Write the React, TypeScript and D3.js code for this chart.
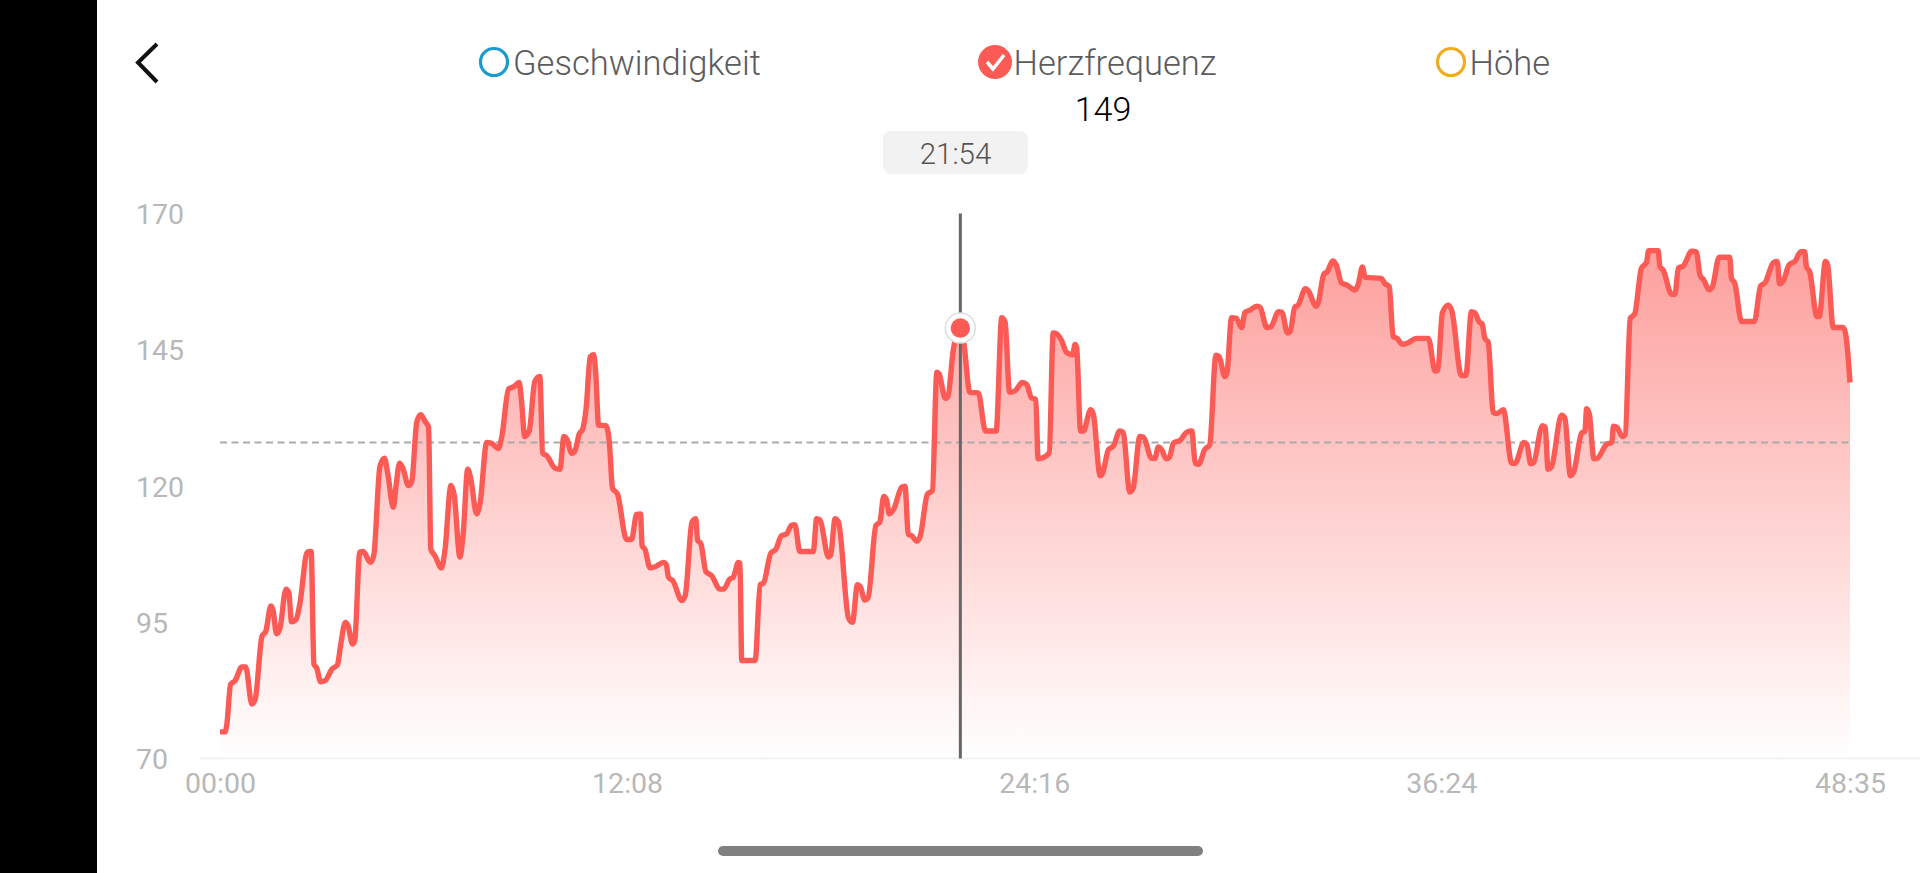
import React, { useEffect, useRef } from 'react';
import * as d3 from 'd3';

// seconds since start (00:00 .. 48:35)
const seconds = [
  0, 9, 12, 19, 27, 39, 46, 57, 63, 75, 82, 91, 95, 101, 107, 118, 123, 128, 136, 143,
  156, 163, 168, 173, 180, 188, 200, 210, 216, 224, 229, 237, 241, 250, 256, 269, 275, 286, 294, 300,
  310, 315, 321, 327, 337, 343, 352, 359, 367, 373, 377, 384, 396, 402, 413, 419, 429, 435, 443, 448,
  459, 465, 477, 486, 498, 504, 516, 525, 535, 539, 545, 553, 563, 572, 577, 585, 599, 608, 615, 620,
  629, 634, 643, 648, 655, 662, 668, 672, 677, 690, 696, 702, 711, 727, 736, 745, 752, 755, 760, 769,
  778, 793, 798, 802, 810, 826, 832, 844, 851, 854, 860, 869, 879, 894, 901, 911, 918, 927, 930, 933,
  957, 966, 972, 985, 994, 1004, 1013, 1022, 1028, 1037, 1061, 1067, 1073, 1088, 1092, 1100, 1106, 1124, 1131, 1140,
  1145, 1153, 1159, 1173, 1180, 1187, 1192, 1197, 1205, 1219, 1225, 1231, 1237, 1246, 1252, 1265, 1274, 1282, 1286, 1297,
  1302, 1311, 1324, 1330, 1341, 1356, 1369, 1388, 1398, 1404, 1412, 1422, 1435, 1443, 1451, 1459, 1463, 1469, 1483, 1490,
  1497, 1505, 1514, 1525, 1529, 1532, 1539, 1544, 1557, 1562, 1574, 1578, 1589, 1598, 1609, 1615, 1627, 1633, 1645, 1652,
  1666, 1672, 1678, 1684, 1692, 1698, 1705, 1717, 1729, 1738, 1744, 1750, 1761, 1770, 1781, 1787, 1797, 1801, 1809, 1817,
  1827, 1833, 1842, 1854, 1860, 1872, 1879, 1893, 1899, 1909, 1914, 1922, 1928, 1941, 1946, 1960, 1964, 1974, 1980, 1990,
  1996, 2006, 2015, 2030, 2036, 2043, 2048, 2077, 2083, 2091, 2098, 2105, 2115, 2123, 2140, 2161, 2173, 2178, 2186, 2197,
  2203, 2220, 2228, 2238, 2244, 2252, 2257, 2262, 2268, 2277, 2283, 2295, 2310, 2316, 2332, 2337, 2344, 2349, 2365, 2370,
  2375, 2381, 2399, 2405, 2415, 2421, 2435, 2441, 2444, 2449, 2457, 2463, 2480, 2489, 2492, 2498, 2508, 2513, 2522, 2530,
  2542, 2551, 2555, 2572, 2575, 2581, 2596, 2602, 2608, 2617, 2632, 2640, 2647, 2653, 2663, 2669, 2681, 2700, 2703, 2709,
  2721, 2744, 2755, 2763, 2778, 2785, 2789, 2795, 2806, 2817, 2827, 2834, 2837, 2843, 2856, 2860, 2871, 2875, 2885, 2903,
  2908, 2915,
];

const heartRate = [
  74.9, 74.9, 76.1, 83.6, 84.3, 86.8, 86.8, 80, 80.9, 92.4, 93.4, 98, 97.2, 92.9, 93.8, 101.1, 100.5, 95.1, 95.5, 98.5,
  107.9, 108, 87.3, 86.6, 84.1, 84.3, 86.4, 87.2, 91, 95, 94.4, 91, 91.7, 107.9, 108, 106, 107.3, 123.6, 125.1, 122.3,
  116.1, 120.2, 124.2, 123.3, 120.1, 120.9, 131.8, 133.1, 131.8, 130.8, 108.4, 107.3, 105, 108, 120.1, 118.2, 107, 111.4, 123.1, 121.6,
  114.9, 116.8, 128, 127.8, 126.9, 129.1, 137.8, 138.2, 139, 135.9, 129.1, 130.1, 139.2, 140.1, 126.1, 125.5, 123.3, 123.1, 129.1, 128.7,
  126, 126.3, 129.7, 130.3, 134.5, 143.7, 144.1, 140.6, 131.2, 131.1, 128.4, 119.6, 118.5, 110.2, 110.2, 114.8, 114.9, 109, 108.4, 105,
  105.2, 106, 105.6, 103.3, 102.6, 99, 99.9, 113.4, 114, 110.1, 109.4, 104.3, 103.6, 101.1, 101.1, 102.9, 103.3, 106, 105.8, 88,
  88, 101.9, 102.2, 107.7, 108.4, 110.9, 111.2, 112.8, 112.9, 108, 108, 114, 113.8, 107, 107.3, 114, 113.4, 95.8, 95, 101.9,
  101.6, 99.1, 99.5, 112.8, 113.4, 118.1, 117.5, 114.9, 115.8, 119.8, 120, 111.1, 110.9, 109.9, 110.7, 118.5, 119.2, 140.9, 140.6, 136.1,
  136.5, 144.7, 149, 146.4, 137.2, 137.1, 130.1, 130.1, 150.9, 150.1, 137.2, 137.5, 139, 138.6, 136.2, 135.9, 125, 125.1, 126.1, 148.1,
  147.9, 146.7, 144.5, 144.1, 146, 145.4, 130.1, 130.1, 134, 133.1, 121.9, 122.3, 126.7, 127.4, 130.1, 129.9, 118.9, 119.6, 129.1, 128.9,
  125.1, 125.1, 127.2, 126.7, 125, 125.3, 127.9, 128.4, 129.9, 130.1, 124.2, 124, 126.7, 127.6, 144, 143.7, 140.1, 140.9, 150.9, 150.8,
  149.1, 151.9, 152.3, 153, 152.8, 149.1, 149.2, 152, 151.9, 148.1, 148.4, 152.8, 153.2, 156.2, 155.9, 153, 153.6, 158.9, 159.3, 161.3,
  160.6, 157.2, 156.9, 156, 157.2, 160.2, 158.3, 158.1, 157.2, 156.6, 147.4, 147.1, 146, 146.2, 147.1, 147.1, 141.1, 141.3, 151.8, 153.2,
  152.1, 140.3, 140.3, 152, 151.8, 150.1, 149.8, 147.1, 146.4, 133.5, 133.3, 134, 124.2, 124.2, 128, 127.7, 124.1, 124.3, 131.1, 130.8,
  123.1, 123.5, 133, 132.5, 121.9, 122.6, 129.7, 130.1, 134.2, 133.1, 125, 125.1, 127.7, 128, 131, 130.8, 129.1, 129.4, 150.8, 151.6,
  160, 161, 163.2, 163.2, 160.3, 159.6, 155.2, 155.2, 160, 160.4, 163.1, 163, 158.6, 157.9, 156, 156.6, 162, 162, 158.1, 157.2,
  150.2, 150.2, 156.7, 157.3, 161, 161.2, 157.1, 157.5, 160.6, 161.3, 163, 163, 160.3, 159.3, 151.1, 151.1, 161.2, 160.6, 149.1, 149.1,
  147.4, 139,
];

const yTicks = [70, 95, 120, 145, 170];
const xTicks = [0, 728, 1456, 2184, 2915];
const xTickLabels = ['00:00', '12:08', '24:16', '36:24', '48:35'];
const averageRate = 128;
const cursorSeconds = 1324;
const cursorRate = 149;
const cursorLabel = '21:54';

const legendNames = ['Geschwindigkeit', 'Herzfrequenz', 'Höhe'];
const legendColors = ['#1a9bd0', '#fb5a55', '#f0ac1e'];
const legendActive = [false, true, false];

const FONT = 'Roboto, sans-serif';

const App: React.FC = () => {
  const svgRef = useRef<SVGSVGElement>(null);

  useEffect(() => {
    if (!svgRef.current) return;

    const width = 1920;
    const height = 873;
    const svg = d3.select(svgRef.current);
    svg.selectAll('*').remove();

    const x = d3.scaleLinear().domain([0, 2915]).range([220, 1850]);
    const y = d3.scaleLinear().domain([70, 170]).range([758.6, 213.6]);
    const points = seconds.map((s, i) => ({ s, v: heartRate[i] }));

    svg.append('rect').attr('width', width).attr('height', height).attr('fill', '#fff');
    svg.append('rect').attr('width', 97).attr('height', height).attr('fill', '#000');

    // back arrow
    svg.append('path')
      .attr('d', 'M157,44 L138,62.5 L157,82')
      .attr('fill', 'none')
      .attr('stroke', '#111')
      .attr('stroke-width', 4);

    // legend
    const legendX = [494, 995, 1451];
    const labelX = [19, 18.5, 18.5];
    legendNames.forEach((name, i) => {
      const g = svg.append('g').attr('transform', `translate(${legendX[i]},62)`);
      if (legendActive[i]) {
        g.append('circle').attr('r', 17).attr('fill', legendColors[i]);
        g.append('path')
          .attr('d', 'M-8,0 L-2,7 L9,-7')
          .attr('fill', 'none')
          .attr('stroke', '#fff')
          .attr('stroke-width', 3.5);
      } else {
        g.append('circle')
          .attr('r', 13.5)
          .attr('fill', 'none')
          .attr('stroke', legendColors[i])
          .attr('stroke-width', 3.2);
      }
      g.append('text')
        .attr('x', labelX[i])
        .attr('y', 13)
        .attr('font-family', FONT)
        .attr('font-weight', 300)
        .attr('font-size', 34.5)
        .attr('fill', '#5c5c5c')
        .text(name);
    });

    svg.append('text')
      .attr('x', 1103)
      .attr('y', 121)
      .attr('text-anchor', 'middle')
      .attr('font-family', FONT)
      .attr('font-weight', 300)
      .attr('font-size', 34)
      .attr('fill', '#000')
      .text(cursorRate);

    // tooltip
    svg.append('rect')
      .attr('x', 883).attr('y', 131)
      .attr('width', 145).attr('height', 43)
      .attr('rx', 8)
      .attr('fill', '#f2f2f2');
    svg.append('text')
      .attr('x', 955.5)
      .attr('y', 164)
      .attr('text-anchor', 'middle')
      .attr('font-family', FONT)
      .attr('font-weight', 300)
      .attr('font-size', 29.5)
      .attr('fill', '#555')
      .text(cursorLabel);

    const gradient = svg.append('defs')
      .append('linearGradient')
      .attr('id', 'hr-gradient')
      .attr('gradientUnits', 'userSpaceOnUse')
      .attr('x1', 0).attr('y1', y(170))
      .attr('x2', 0).attr('y2', y(70));
    gradient.append('stop').attr('offset', '0%').attr('stop-color', '#fb5a55').attr('stop-opacity', 0.62);
    gradient.append('stop').attr('offset', '100%').attr('stop-color', '#fb5a55').attr('stop-opacity', 0);

    const area = d3.area<{ s: number; v: number }>()
      .x(d => x(d.s))
      .y0(y(70))
      .y1(d => y(d.v))
      .curve(d3.curveMonotoneX);

    svg.append('path')
      .datum(points)
      .attr('fill', 'url(#hr-gradient)')
      .attr('d', area);

    // baseline
    svg.append('line')
      .attr('x1', 200).attr('x2', width)
      .attr('y1', y(70)).attr('y2', y(70))
      .attr('stroke', '#f2f2f2')
      .attr('stroke-width', 2);

    // average
    svg.append('line')
      .attr('x1', x(0)).attr('x2', x(2915))
      .attr('y1', y(averageRate)).attr('y2', y(averageRate))
      .attr('stroke', '#aaa')
      .attr('stroke-width', 2)
      .attr('stroke-dasharray', '7 4.5');

    const line = d3.line<{ s: number; v: number }>()
      .x(d => x(d.s))
      .y(d => y(d.v))
      .curve(d3.curveMonotoneX);

    svg.append('path')
      .datum(points)
      .attr('fill', 'none')
      .attr('stroke', '#fb5a55')
      .attr('stroke-width', 5.4)
      .attr('stroke-linejoin', 'round')
      .attr('stroke-linecap', 'butt')
      .attr('d', line);

    const yAxis = svg.append('g')
      .attr('transform', 'translate(136,1)')
      .call(d3.axisLeft(y).tickValues(yTicks).tickSize(0).tickPadding(0));
    yAxis.select('.domain').remove();
    yAxis.selectAll('text')
      .attr('text-anchor', 'start')
      .attr('font-family', FONT)
      .attr('font-size', 28.5)
      .attr('fill', '#b8b8b8');

    const xAxis = svg.append('g')
      .attr('transform', 'translate(0,758.6)')
      .call(
        d3.axisBottom(x)
          .tickValues(xTicks)
          .tickSize(0)
          .tickPadding(14)
          .tickFormat((_, i) => xTickLabels[i])
      );
    xAxis.select('.domain').remove();
    xAxis.selectAll('text')
      .attr('font-family', FONT)
      .attr('font-size', 28.5)
      .attr('fill', '#b8b8b8');

    // cursor
    svg.append('line')
      .attr('x1', x(cursorSeconds)).attr('x2', x(cursorSeconds))
      .attr('y1', y(170)).attr('y2', y(70))
      .attr('stroke', '#666')
      .attr('stroke-width', 3);
    svg.append('circle')
      .attr('cx', x(cursorSeconds)).attr('cy', y(cursorRate))
      .attr('r', 15)
      .attr('fill', '#fff')
      .attr('stroke', '#ddd')
      .attr('stroke-width', 1.5);
    svg.append('circle')
      .attr('cx', x(cursorSeconds)).attr('cy', y(cursorRate))
      .attr('r', 9.7)
      .attr('fill', '#fb5a55');

    // home indicator
    svg.append('rect')
      .attr('x', 718).attr('y', 846)
      .attr('width', 485).attr('height', 10)
      .attr('rx', 5)
      .attr('fill', '#808080');
  }, []);

  return (
    <svg
      ref={svgRef}
      width={1920}
      height={873}
      viewBox="0 0 1920 873"
      style={{ position: 'absolute', top: 0, left: 0, display: 'block' }}
    />
  );
};

export default App;
